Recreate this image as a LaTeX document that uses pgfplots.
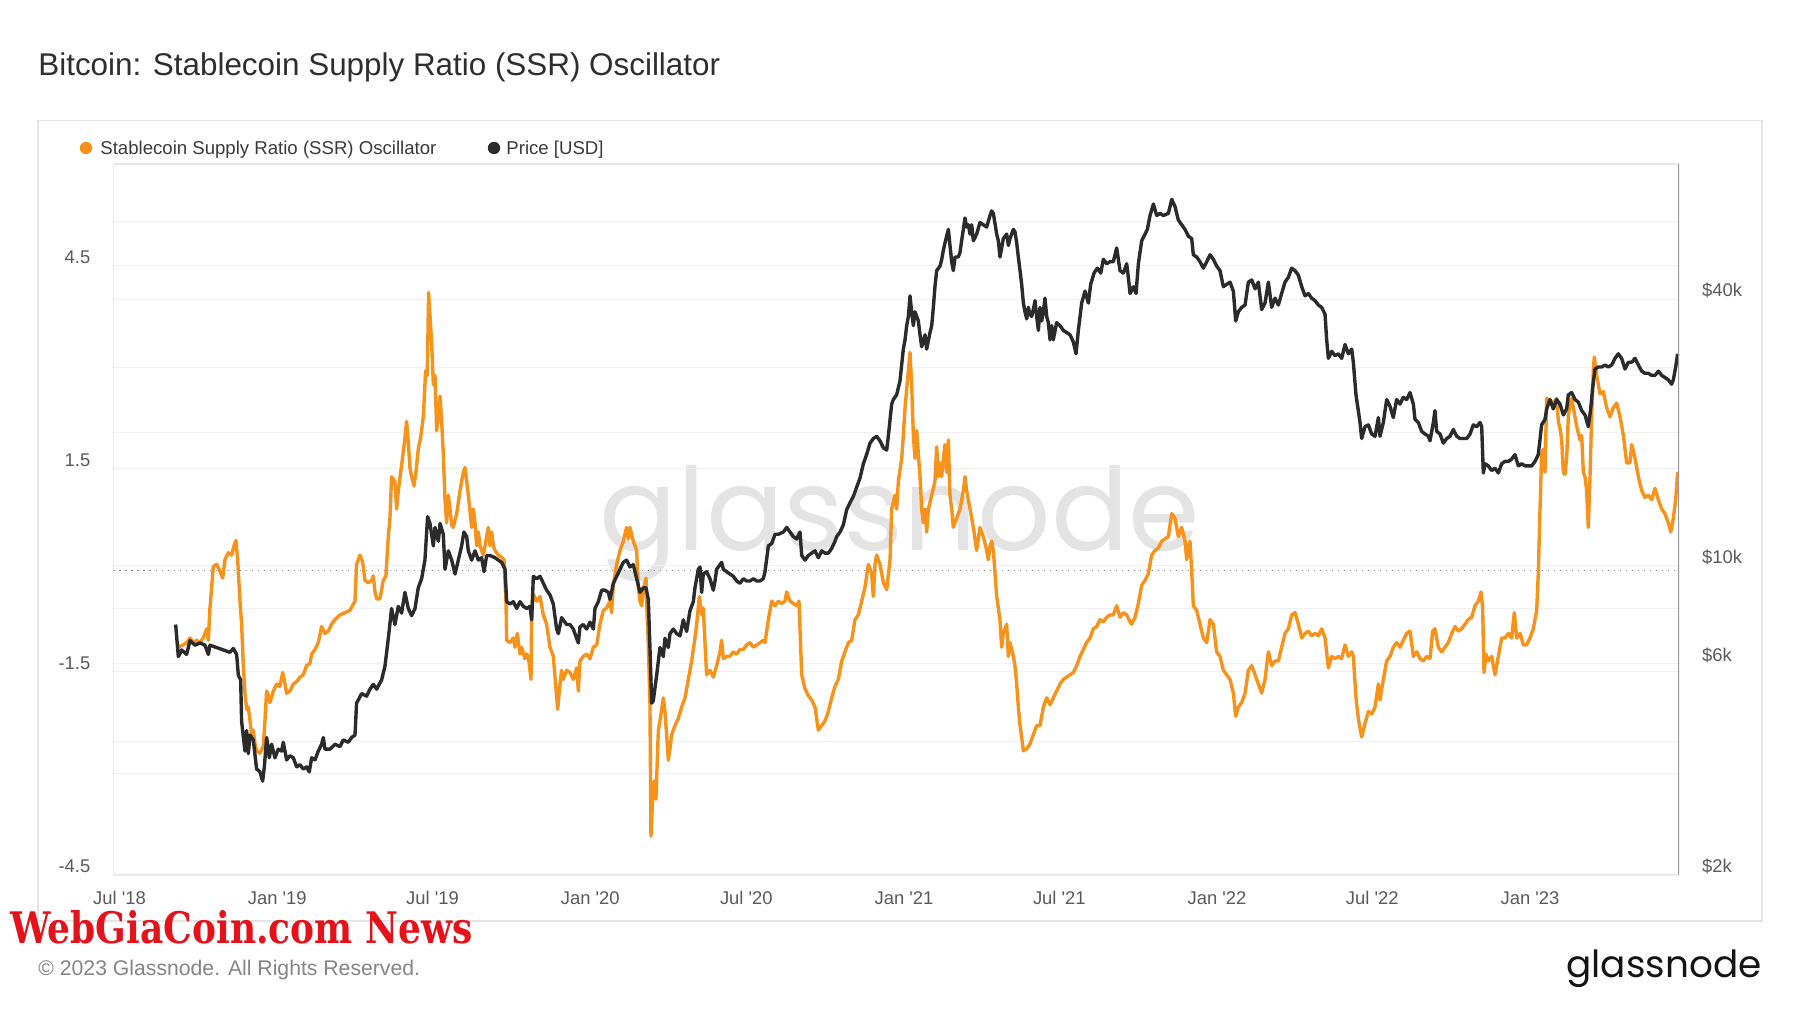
\documentclass[border=0pt]{standalone}
\usepackage{fontspec}
\setmainfont{Liberation Sans}
\newfontfamily\poppins{Poppins}
\newfontfamily\slab{DejaVu Serif}
\usepackage{pgfplots}
\usepackage{pgfplotstable}
\pgfplotsset{compat=1.18}
\definecolor{btc}{HTML}{F7931A}
\definecolor{pricec}{HTML}{2B2B2B}
\definecolor{titlec}{HTML}{2E2E2E}
\definecolor{legc}{HTML}{3A3A3A}
\definecolor{tickc}{HTML}{5A5A5A}
\definecolor{gridc}{HTML}{F0F0F0}
\definecolor{framec}{HTML}{E6E6E6}
\definecolor{zeroc}{HTML}{8A8A8A}
\definecolor{wmc}{HTML}{E4E4E4}
\definecolor{footc}{HTML}{858585}
\definecolor{logoc}{HTML}{141414}
\definecolor{redc}{HTML}{E3121B}
\definecolor{leftc}{HTML}{EDC98A}
\definecolor{rightc}{HTML}{9A9A9A}

\pgfplotstableread{
day v
68.6 -1.136
74.4 -1.102
78.3 -1.068
82.2 -1.000
86.1 -1.068
90.0 -1.034
93.9 -1.068
97.7 -1.000
101.6 -0.864
103.6 -1.034
105.5 -0.558
109.4 0.054
113.3 0.088
117.2 -0.014
120.3 -0.116
123.0 0.156
126.9 0.259
130.8 0.224
133.5 0.361
135.8 0.442
137.8 0.156
140.5 -0.456
142.4 -0.796
144.4 -1.408
146.3 -1.816
148.3 -2.054
150.2 -2.020
152.2 -2.224
154.1 -2.429
156.0 -2.361
158.0 -2.565
159.9 -2.667
163.8 -2.701
167.7 -2.599
169.6 -2.224
171.6 -1.782
173.5 -1.850
175.5 -1.952
179.4 -1.782
183.3 -1.680
187.1 -1.714
190.3 -1.510
193.0 -1.680
194.9 -1.816
198.8 -1.782
202.7 -1.680
206.6 -1.646
210.5 -1.578
214.3 -1.544
218.2 -1.408
222.1 -1.374
224.1 -1.238
228.0 -1.170
231.8 -1.068
235.7 -0.830
239.6 -0.932
243.5 -0.898
247.4 -0.796
251.3 -0.728
257.1 -0.660
262.9 -0.626
268.8 -0.592
274.6 -0.456
276.5 0.088
280.4 0.224
283.5 0.122
286.3 -0.150
290.1 -0.184
294.0 -0.150
296.0 -0.082
297.9 -0.320
299.9 -0.422
303.7 -0.422
307.6 -0.150
310.7 -0.082
313.5 0.497
315.4 0.769
317.3 1.381
321.2 1.313
323.2 0.905
325.1 1.177
329.0 1.551
331.7 1.823
334.8 2.197
336.8 1.891
338.7 1.517
340.7 1.381
343.4 1.245
345.7 1.449
348.4 1.789
351.2 1.959
354.3 2.265
357.0 2.946
358.9 2.878
360.5 4.102
364.0 3.354
366.0 2.741
367.9 2.878
369.9 2.061
371.8 2.265
373.8 2.571
375.7 2.197
377.6 1.721
379.6 1.041
381.5 0.701
383.5 1.109
385.4 0.905
387.4 0.667
389.3 0.633
393.2 0.837
397.1 1.177
401.0 1.449
402.9 1.517
404.9 1.313
406.8 1.109
410.7 0.633
412.6 0.905
414.6 0.701
416.5 0.361
418.5 0.565
420.4 0.361
424.3 0.224
428.2 0.497
430.1 0.633
432.1 0.361
434.0 0.565
436.0 0.361
437.9 0.293
441.8 0.224
445.7 0.190
448.4 0.156
450.7 -0.456
451.5 -1.034
455.4 -1.068
459.3 -1.000
461.2 -1.136
463.9 -0.932
467.0 -1.238
469.0 -1.136
472.9 -1.306
474.8 -1.238
476.8 -1.272
478.7 -1.476
479.9 -1.612
480.7 -0.592
482.6 -0.354
486.5 -0.456
490.4 -0.388
494.3 -0.660
498.1 -0.796
502.0 -1.136
505.9 -1.272
509.0 -1.748
511.0 -2.054
513.7 -1.680
515.6 -1.476
517.6 -1.612
521.5 -1.476
525.4 -1.510
529.2 -1.612
533.1 -1.442
535.1 -1.782
537.0 -1.340
540.9 -1.272
544.8 -1.238
548.7 -1.306
552.6 -1.136
556.5 -1.102
560.3 -0.796
564.2 -0.592
568.1 -0.558
572.0 -0.456
573.9 -0.626
575.9 -0.218
579.8 0.088
583.7 0.293
587.5 0.429
591.4 0.633
593.4 0.463
595.3 0.633
599.2 0.429
603.1 0.293
605.0 -0.252
607.0 -0.456
608.9 -0.524
610.9 -0.286
614.0 -0.116
615.5 -0.728
616.7 -1.102
618.6 -1.952
619.8 -3.925
621.7 -3.381
623.7 -3.109
625.6 -3.381
628.4 -2.361
631.1 -2.156
634.2 -1.884
636.1 -2.088
638.1 -2.429
640.0 -2.803
642.0 -2.633
643.9 -2.429
647.8 -2.293
651.7 -2.190
655.6 -2.020
659.5 -1.884
663.3 -1.612
667.2 -1.340
671.1 -1.000
673.1 -0.796
676.2 -0.388
678.9 -0.660
680.8 -0.558
682.8 -1.068
684.7 -1.544
688.6 -1.476
692.5 -1.578
696.4 -1.408
700.3 -1.204
702.2 -1.034
704.2 -1.306
708.0 -1.272
711.9 -1.272
715.8 -1.204
719.7 -1.238
723.6 -1.170
727.5 -1.170
731.4 -1.102
735.3 -1.068
739.2 -1.136
743.1 -1.102
747.0 -1.068
750.8 -1.034
752.8 -1.068
756.7 -0.728
760.6 -0.456
764.5 -0.524
768.3 -0.456
772.2 -0.490
776.1 -0.456
778.1 -0.320
782.0 -0.456
785.8 -0.490
789.7 -0.524
792.4 -0.456
795.6 -1.544
799.4 -1.748
803.3 -1.850
807.2 -1.918
811.1 -2.020
815.0 -2.361
818.9 -2.293
822.8 -2.224
826.6 -2.088
830.5 -1.884
834.4 -1.714
838.3 -1.612
842.2 -1.340
846.1 -1.204
850.0 -1.068
853.9 -1.034
857.7 -0.728
861.6 -0.660
865.5 -0.456
869.4 -0.252
873.3 0.088
877.2 -0.048
879.1 -0.388
881.1 0.088
883.0 0.224
886.9 0.088
890.8 -0.184
894.7 -0.286
898.6 0.156
900.5 0.905
904.4 1.109
906.3 0.905
908.3 1.313
912.2 1.653
914.1 1.993
916.1 2.401
918.0 2.673
920.0 2.946
921.9 3.218
923.8 2.741
925.8 1.993
927.7 1.653
929.7 2.061
931.6 1.721
933.6 1.381
935.5 0.905
937.4 0.701
939.4 0.905
941.3 0.565
943.3 0.905
947.2 1.109
951.0 1.313
953.0 1.823
954.9 1.381
956.9 1.585
958.8 1.381
960.8 1.653
962.7 1.857
964.6 1.449
966.6 1.925
968.5 1.109
970.5 0.905
972.4 0.633
976.3 0.769
980.2 0.905
984.1 1.177
986.0 1.381
988.0 1.177
989.9 1.041
991.9 0.905
995.8 0.633
999.6 0.293
1003.5 0.633
1007.4 0.497
1011.3 0.293
1013.2 0.156
1015.2 0.361
1017.1 0.429
1019.1 0.293
1023.0 -0.388
1026.8 -0.728
1028.8 -1.136
1030.7 -0.932
1034.6 -0.796
1036.6 -1.272
1038.5 -1.068
1042.4 -1.272
1044.3 -1.408
1046.3 -1.680
1048.2 -2.020
1050.2 -2.293
1052.1 -2.463
1054.1 -2.667
1058.0 -2.633
1061.8 -2.565
1065.7 -2.429
1069.6 -2.293
1073.5 -2.293
1077.4 -2.020
1081.3 -1.884
1085.2 -1.986
1089.0 -1.884
1092.9 -1.782
1096.8 -1.680
1100.7 -1.612
1104.6 -1.578
1108.5 -1.544
1112.4 -1.510
1116.3 -1.408
1120.2 -1.272
1124.0 -1.170
1127.9 -1.068
1131.8 -1.000
1135.7 -0.864
1139.6 -0.830
1143.5 -0.728
1147.4 -0.762
1151.3 -0.694
1155.1 -0.660
1159.0 -0.660
1162.9 -0.524
1166.8 -0.694
1170.7 -0.626
1174.6 -0.660
1178.5 -0.762
1180.4 -0.796
1184.3 -0.694
1188.2 -0.490
1192.1 -0.218
1196.0 -0.150
1199.8 -0.048
1203.7 0.224
1207.6 0.293
1211.5 0.327
1215.4 0.429
1219.3 0.463
1223.2 0.497
1227.1 0.837
1230.9 0.769
1234.8 0.497
1238.7 0.633
1242.6 0.429
1244.6 0.156
1246.5 0.361
1248.4 0.429
1250.4 -0.014
1252.3 -0.524
1256.2 -0.592
1260.1 -0.796
1264.0 -1.000
1267.9 -1.068
1271.8 -0.728
1275.7 -0.796
1279.5 -1.204
1283.4 -1.272
1287.3 -1.476
1291.2 -1.544
1295.1 -1.612
1299.0 -1.816
1301.7 -2.156
1304.8 -2.020
1308.7 -1.952
1312.6 -1.816
1316.5 -1.476
1320.4 -1.408
1324.3 -1.544
1328.1 -1.680
1332.0 -1.816
1335.9 -1.612
1339.8 -1.204
1343.7 -1.408
1347.6 -1.340
1351.5 -1.340
1355.3 -1.136
1359.2 -0.932
1363.1 -0.864
1367.0 -0.660
1370.9 -0.626
1374.8 -0.796
1378.7 -1.000
1382.6 -0.932
1386.4 -0.898
1390.3 -0.966
1394.2 -0.932
1398.1 -0.966
1402.0 -0.864
1405.9 -1.000
1409.8 -1.442
1413.7 -1.272
1417.5 -1.306
1421.4 -1.272
1425.3 -1.306
1429.2 -1.102
1433.1 -1.272
1437.0 -1.204
1438.9 -1.272
1442.0 -1.884
1444.7 -2.190
1448.6 -2.463
1452.5 -2.259
1456.4 -2.088
1460.3 -2.122
1464.2 -2.020
1468.1 -1.680
1470.0 -1.918
1473.9 -1.612
1477.8 -1.340
1481.7 -1.272
1485.5 -1.136
1489.4 -1.068
1493.3 -1.136
1497.2 -1.034
1501.1 -0.932
1505.0 -0.898
1508.9 -1.272
1512.8 -1.204
1516.6 -1.306
1520.5 -1.340
1524.4 -1.272
1528.3 -1.306
1531.4 -0.898
1534.1 -0.864
1538.0 -1.136
1541.9 -1.204
1545.8 -1.136
1549.7 -1.068
1553.6 -0.932
1557.5 -0.830
1561.3 -0.898
1565.2 -0.864
1569.1 -0.796
1573.0 -0.728
1576.9 -0.694
1580.8 -0.524
1584.7 -0.456
1587.8 -0.320
1589.7 -0.558
1591.3 -1.510
1593.6 -1.238
1596.3 -1.340
1600.2 -1.272
1604.1 -1.544
1608.0 -1.272
1611.9 -1.000
1615.8 -1.000
1619.7 -0.932
1623.5 -1.000
1626.6 -0.626
1629.4 -1.000
1633.3 -0.932
1637.1 -1.102
1641.0 -1.102
1644.9 -1.000
1648.8 -0.864
1652.7 -0.592
1654.6 -0.048
1656.6 0.905
1658.5 1.721
1660.5 1.789
1662.4 1.449
1664.4 2.537
1668.2 2.503
1672.1 2.469
1676.0 2.537
1678.0 2.197
1679.9 2.095
1681.9 1.925
1683.8 1.449
1685.7 1.415
1687.7 1.653
1689.6 2.265
1691.6 2.469
1693.5 2.537
1695.5 2.401
1699.3 2.129
1703.2 1.925
1705.2 1.993
1707.1 1.449
1709.1 1.381
1711.0 1.177
1712.9 0.633
1714.9 1.381
1716.8 2.265
1718.8 2.946
1719.9 3.150
1722.7 2.878
1726.6 2.605
1730.4 2.639
1734.3 2.401
1738.2 2.265
1742.1 2.401
1746.0 2.469
1749.9 2.265
1753.8 1.993
1757.7 1.585
1761.5 1.585
1763.5 1.857
1767.4 1.653
1771.3 1.381
1775.2 1.177
1779.0 1.075
1782.9 1.109
1786.8 1.041
1790.7 1.211
1794.6 1.041
1798.5 0.905
1802.3 0.837
1806.2 0.701
1809.0 0.565
1812.1 0.769
1814.8 1.041
1817.1 1.449
}\ssrdata

\pgfplotstableread{
day p
65.5 7.36
68.6 6.23
72.5 6.45
78.3 6.30
82.2 6.77
88.0 6.61
93.9 6.69
99.7 6.61
103.6 6.30
105.5 6.61
113.3 6.53
121.1 6.45
128.8 6.37
132.7 6.50
136.6 6.30
138.6 5.65
141.3 5.52
142.4 4.45
146.3 3.81
148.3 4.24
150.2 3.76
152.2 4.14
156.0 4.04
159.9 3.47
163.8 3.42
166.9 3.26
168.9 3.51
171.6 4.09
174.7 3.68
177.4 3.95
181.3 3.68
185.2 3.85
189.1 3.81
191.0 3.99
194.9 3.64
198.8 3.72
202.7 3.68
206.6 3.51
210.5 3.55
214.3 3.47
218.2 3.51
221.3 3.42
224.1 3.68
228.0 3.64
231.8 3.81
235.7 3.95
237.7 4.09
239.6 3.85
245.5 3.85
251.3 3.95
257.1 3.90
261.0 4.04
266.8 3.99
270.7 4.09
274.6 4.14
276.5 4.89
282.4 5.14
288.2 5.07
292.1 5.26
296.0 5.39
299.9 5.26
305.7 5.52
309.6 5.93
313.5 6.85
317.3 8.00
321.2 7.36
325.1 8.09
329.0 7.81
332.9 8.70
336.8 8.00
340.7 7.71
344.6 8.00
348.4 8.91
352.3 9.34
356.2 10.29
359.3 12.90
362.1 12.45
366.0 11.08
367.9 12.20
371.8 11.35
373.8 12.45
377.6 11.77
379.6 9.81
383.5 10.80
387.4 10.29
391.3 9.57
395.1 10.29
399.0 11.08
401.7 11.91
404.9 11.63
406.8 10.80
410.7 10.29
414.6 10.80
418.5 10.29
422.3 10.42
425.1 9.69
428.2 10.54
432.1 10.54
437.9 10.42
441.8 10.29
445.7 10.17
449.6 9.81
451.5 8.29
455.4 8.19
459.3 8.29
463.2 8.00
467.1 8.29
471.0 8.09
474.8 8.00
478.7 8.09
480.7 7.54
482.6 9.46
486.5 9.34
490.4 9.46
494.3 9.12
498.1 8.80
502.0 8.59
505.9 8.19
509.8 7.19
511.8 7.02
515.6 7.63
517.6 7.54
521.5 7.36
525.4 7.36
529.2 7.19
533.1 6.85
535.1 6.69
537.0 7.27
540.9 7.36
544.8 7.19
548.7 7.45
552.6 7.19
554.5 8.00
558.4 8.29
562.3 8.80
566.2 8.80
570.1 8.70
572.0 8.39
575.9 9.12
579.8 9.46
583.7 9.81
587.5 10.17
591.4 10.29
595.3 9.93
599.2 10.05
603.1 9.34
607.0 8.70
610.9 8.91
614.0 8.91
616.7 8.39
618.6 6.53
620.6 4.89
622.5 4.95
626.4 5.65
630.3 6.53
634.2 6.23
636.1 6.85
640.0 6.53
642.0 7.02
645.9 7.19
649.8 7.02
653.7 6.94
657.5 7.54
661.4 7.10
665.3 7.91
669.2 8.29
671.1 8.91
675.0 9.81
677.0 9.93
678.9 8.70
680.8 9.57
684.7 9.69
688.6 9.34
692.5 8.80
694.5 9.23
696.4 9.81
700.3 10.05
702.2 10.17
704.2 9.81
708.0 9.69
711.9 9.57
715.8 9.46
719.7 9.23
723.6 9.12
727.5 9.34
731.4 9.23
735.3 9.23
739.2 9.34
743.1 9.23
747.0 9.23
750.8 9.34
752.8 9.69
756.7 11.08
760.6 11.22
764.5 11.77
768.3 11.77
774.2 11.91
778.1 12.20
782.0 11.91
785.8 11.63
789.7 11.49
793.6 11.91
795.6 10.54
799.4 10.29
803.3 10.54
807.2 10.67
811.1 10.80
815.0 10.42
818.9 10.80
822.8 10.67
826.6 10.67
830.5 10.93
834.4 11.35
836.4 11.63
840.3 11.91
844.1 12.35
848.0 13.37
851.9 13.87
855.8 14.33
859.7 15.04
863.6 15.77
867.5 16.99
871.3 17.82
875.2 18.91
879.1 19.37
883.0 19.60
886.9 19.14
890.8 18.46
894.7 18.24
896.6 19.60
900.5 23.17
902.5 23.73
906.3 24.31
910.2 26.13
914.1 30.85
916.1 32.37
918.0 34.85
920.0 36.57
921.9 40.68
923.8 37.46
925.8 34.85
927.7 37.46
929.7 36.57
931.6 35.70
933.6 33.22
935.5 31.22
939.4 33.22
941.3 30.85
945.2 33.62
947.2 34.85
949.1 38.33
951.0 42.67
953.0 46.40
956.9 47.50
958.8 49.10
960.8 51.60
962.7 53.60
964.6 55.50
966.6 57.50
968.5 52.90
970.5 48.60
972.4 46.40
974.4 49.80
978.2 49.80
980.2 51.00
982.1 54.20
984.1 57.50
986.0 61.00
988.0 58.20
989.9 58.90
991.9 56.10
993.8 58.90
995.8 54.20
999.6 56.10
1003.5 59.60
1007.4 58.90
1011.3 58.20
1015.2 61.80
1017.1 63.30
1019.1 62.50
1023.0 56.10
1024.9 54.20
1026.8 49.80
1028.8 52.20
1030.7 54.80
1034.6 56.10
1036.6 52.90
1038.5 54.80
1042.4 57.50
1044.3 56.80
1046.3 53.60
1048.2 49.80
1050.2 46.40
1052.1 43.20
1054.1 39.20
1056.0 37.46
1058.0 36.10
1059.9 38.33
1061.8 36.96
1063.8 36.57
1065.7 37.90
1067.7 39.70
1069.6 36.57
1071.6 34.00
1073.5 38.33
1075.4 35.70
1077.4 37.46
1079.3 40.20
1081.3 36.57
1083.2 35.40
1085.2 32.37
1087.1 34.85
1089.0 32.37
1092.9 35.40
1096.8 34.85
1100.7 34.00
1104.6 33.62
1108.5 33.22
1112.4 32.00
1115.5 30.10
1118.2 34.00
1122.1 39.20
1126.0 41.70
1129.9 39.20
1132.6 43.20
1136.5 45.80
1140.4 47.00
1144.3 45.80
1147.4 49.20
1151.3 48.10
1155.1 48.60
1159.0 48.60
1162.9 52.20
1166.8 46.40
1170.7 45.80
1174.6 48.10
1176.5 44.80
1178.5 41.20
1182.4 42.67
1185.5 41.20
1188.2 48.10
1192.1 54.20
1196.0 56.10
1198.7 57.50
1201.8 61.80
1205.7 65.60
1209.6 61.80
1213.5 62.50
1217.3 61.80
1223.2 62.50
1227.1 67.20
1230.9 64.80
1234.8 60.40
1238.7 58.90
1242.6 57.50
1246.5 55.50
1250.4 54.80
1252.3 50.40
1256.2 49.80
1260.1 48.60
1264.0 47.00
1267.9 48.60
1271.8 50.40
1275.7 49.20
1279.5 47.50
1283.4 46.40
1287.3 42.67
1291.2 43.20
1295.1 43.70
1299.0 41.70
1301.7 35.70
1304.8 37.46
1308.7 38.33
1312.6 38.80
1316.5 43.70
1320.4 44.20
1324.3 42.20
1328.1 43.70
1332.0 37.90
1335.9 39.20
1339.8 43.70
1343.7 38.33
1347.6 40.20
1351.5 38.80
1355.3 41.20
1359.2 43.70
1363.1 44.80
1367.0 47.00
1370.9 46.40
1374.8 45.30
1378.7 42.67
1382.6 40.68
1386.4 41.20
1390.3 40.20
1394.2 39.70
1398.1 38.80
1402.0 38.33
1405.9 36.96
1407.8 32.37
1409.8 29.40
1413.7 30.50
1417.5 29.80
1421.4 30.10
1425.3 29.40
1429.2 31.60
1433.1 30.10
1437.0 30.85
1438.9 28.80
1442.0 24.30
1444.7 22.40
1446.7 21.06
1448.6 19.37
1452.5 20.60
1456.4 20.80
1460.3 19.83
1464.2 19.60
1468.1 21.60
1470.0 19.60
1473.9 21.06
1477.8 23.73
1481.7 22.90
1485.5 21.60
1489.4 23.73
1493.3 23.17
1497.2 24.00
1501.1 23.73
1505.0 24.60
1508.9 23.17
1510.8 21.40
1514.7 21.06
1518.6 20.10
1522.5 19.83
1526.4 19.60
1528.3 19.14
1532.2 21.06
1534.1 22.40
1536.1 20.10
1540.0 19.83
1543.9 18.91
1547.7 19.37
1551.6 19.60
1555.5 20.30
1559.4 19.60
1563.3 19.37
1567.2 19.37
1571.1 19.37
1575.0 19.83
1578.8 20.80
1582.7 20.60
1586.6 21.06
1588.6 20.60
1590.5 16.19
1592.5 16.99
1596.3 16.80
1600.2 16.40
1604.1 16.60
1608.0 16.19
1611.9 16.99
1615.8 17.20
1619.7 17.20
1623.5 17.40
1627.4 17.82
1631.3 16.80
1635.2 16.99
1639.1 16.80
1643.0 16.80
1646.9 16.80
1650.8 17.20
1654.6 17.82
1658.5 20.80
1662.4 21.40
1664.4 22.60
1668.2 23.73
1672.1 22.60
1676.0 23.73
1679.9 23.17
1683.8 21.90
1687.7 22.60
1689.6 24.31
1693.5 24.60
1697.4 23.73
1701.3 23.40
1705.2 22.40
1709.1 21.90
1712.9 20.60
1715.7 22.60
1718.0 25.20
1720.7 27.80
1724.6 28.10
1728.5 28.10
1732.4 28.40
1736.3 28.10
1740.2 28.40
1744.1 29.40
1747.9 30.10
1751.8 29.40
1755.7 27.80
1759.6 28.80
1763.5 28.80
1767.4 29.40
1771.3 28.40
1775.2 27.50
1779.0 27.20
1782.9 27.20
1786.8 26.90
1790.7 26.90
1794.6 27.50
1798.5 26.90
1802.3 26.60
1806.2 26.30
1810.1 25.70
1812.1 26.30
1814.8 28.10
1817.1 30.10
}\pricedata

\pgfplotsset{
  gbase/.style={
    at={(56.75pt,69pt)}, anchor=south west,
    scale only axis, width=782.75pt, height=355.5pt,
    xmin=-7, xmax=1818.7, clip=true,
    axis line style={draw=none},
    major tick length=0pt,
    ticklabel style={font=\fontsize{9.2}{11}\selectfont, text=tickc},
  },
}

\begin{document}
\begin{tikzpicture}
\useasboundingbox (0,0) rectangle (900pt,506.5pt);
\fill[white] (0,0) rectangle (900pt,506.5pt);
\draw[framec, line width=0.8pt] (19pt,46pt) rectangle (881pt,446.25pt);

\node[anchor=base west, inner sep=0pt, text=titlec, font=\fontsize{15.7}{18}\selectfont] at (19pt,468.9pt) {Bitcoin: Stablecoin Supply Ratio (SSR) Oscillator};

\fill[btc] (43pt,432.5pt) circle (3.1pt);
\node[anchor=base west, inner sep=0pt, text=legc, font=\fontsize{9.3}{11}\selectfont] at (50pt,429.2pt) {Stablecoin Supply Ratio (SSR) Oscillator};
\fill[pricec] (247pt,432.5pt) circle (3.1pt);
\node[anchor=base west, inner sep=0pt, text=legc, font=\fontsize{9.3}{11}\selectfont] at (253pt,429.2pt) {Price [USD]};

\node[anchor=base, inner sep=0pt, text=wmc, font=\poppins\fontsize{57.5}{66}\selectfont] at (450pt,231pt) {glassnode};

% price axis: grid and right-hand labels
\begin{axis}[gbase,
  ymode=log, ymin=2, ymax=80.8,
  xtick=\empty,
  ytick={2,6,10,40},
  yticklabels={\$2k,\$6k,\$10k,\$40k},
  extra y ticks={4,8,20,60},
  extra y tick labels={},
  extra y tick style={grid=major},
  ymajorgrids,
  grid style={gridc, line width=0.5pt},
  yticklabel pos=right,
  yticklabel style={anchor=base west, inner sep=0pt, xshift=11.4pt, yshift=1.2pt},
]
\end{axis}

% SSR oscillator axis
\begin{axis}[gbase,
  ymin=-4.5, ymax=6.0,
  ytick={-4.5,-3,-1.5,1.5,3,4.5},
  yticklabels={-4.5,,-1.5,1.5,,4.5},
  ymajorgrids,
  grid style={gridc, line width=0.5pt},
  extra y ticks={0},
  extra y tick labels={},
  extra y tick style={grid=major, major grid style={zeroc, line width=0.6pt, dash pattern=on 0.7pt off 2.3pt}},
  ytick pos=left,
  yticklabel style={anchor=base east, inner sep=0pt, xshift=-11.4pt, yshift=1.2pt},
  xtick={0,184,365,549,731,915,1096,1280,1461,1645},
  xticklabels={Jul \textquotesingle18,Jan \textquotesingle19,Jul \textquotesingle19,Jan \textquotesingle20,Jul \textquotesingle20,Jan \textquotesingle21,Jul \textquotesingle21,Jan \textquotesingle22,Jul \textquotesingle22,Jan \textquotesingle23},
  xtick pos=left,
  xticklabel style={anchor=base, inner sep=0pt, yshift=-14.8pt},
]
\addplot[btc, line width=1.7pt, line join=round] table[x=day, y=v] {\ssrdata};
\end{axis}

% price line on top
\begin{axis}[gbase,
  ymode=log, ymin=2, ymax=80.8,
  hide axis,
]
\addplot[pricec, line width=1.7pt, line join=round] table[x=day, y=p] {\pricedata};
\draw[framec, line width=0.6pt] (rel axis cs:0,1) -- (rel axis cs:1,1);
\draw[framec, line width=0.8pt] (rel axis cs:0,0) -- (rel axis cs:1,0);
\draw[leftc, line width=0.6pt] (rel axis cs:0,0) -- (rel axis cs:0,1);
\draw[rightc, line width=0.8pt] (rel axis cs:1,0) -- (rel axis cs:1,1);
\end{axis}

\node[anchor=base west, inner sep=0pt, text=footc, font=\fontsize{10.6}{12}\selectfont] at (19pt,18.7pt) {© 2023 Glassnode. All Rights Reserved.};
\node[anchor=base east, inner sep=0pt, text=logoc, font=\poppins\fontsize{18.7}{22}\selectfont] at (881pt,18pt) {glassnode};
\node[anchor=base west, inner sep=0pt, text=redc] at (5pt,35pt) {\resizebox{231pt}{16.5pt}{\slab\bfseries WebGiaCoin.com News}};
\end{tikzpicture}
\end{document}
